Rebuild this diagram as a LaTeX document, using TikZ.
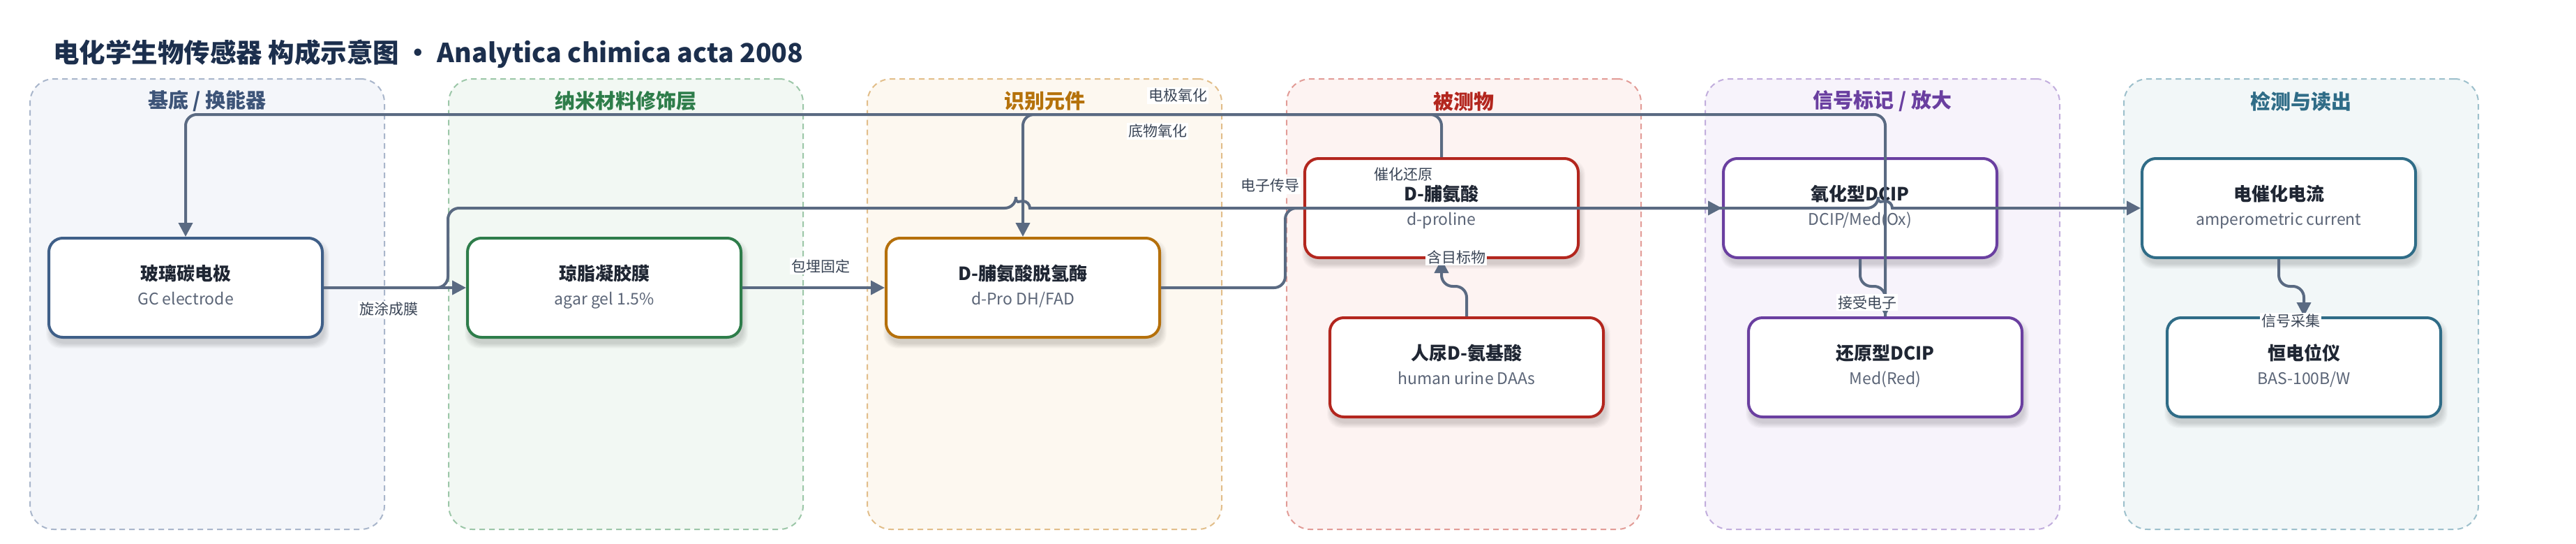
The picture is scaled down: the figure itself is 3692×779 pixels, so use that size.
\documentclass[tikz,border=0pt]{standalone}
\usepackage{fontspec}
\setmainfont{Noto Sans CJK SC}
\usetikzlibrary{arrows.meta,calc}

\definecolor{edgec}{HTML}{5A6A82}
\definecolor{lblc}{HTML}{3A4556}
\definecolor{titlec}{HTML}{1C2F4D}
\definecolor{ntitle}{HTML}{1F2633}
\definecolor{nsub}{HTML}{5B6577}
% cluster colours
\definecolor{fA}{HTML}{F4F6FA}\definecolor{bA}{HTML}{A9B6CB}\definecolor{tA}{HTML}{3D5478}
\definecolor{fB}{HTML}{F2F8F3}\definecolor{bB}{HTML}{9CC7A8}\definecolor{tB}{HTML}{2E7D4A}
\definecolor{fC}{HTML}{FDF8F0}\definecolor{bC}{HTML}{E2BE8A}\definecolor{tC}{HTML}{B5720B}
\definecolor{fD}{HTML}{FDF3F2}\definecolor{bD}{HTML}{E29C97}\definecolor{tD}{HTML}{B3261E}
\definecolor{fE}{HTML}{F7F3FB}\definecolor{bE}{HTML}{C2AEDD}\definecolor{tE}{HTML}{6A3FA0}
\definecolor{fF}{HTML}{F2F7F8}\definecolor{bF}{HTML}{9DC0CC}\definecolor{tF}{HTML}{2F6C87}
% node border colours
\definecolor{nA}{HTML}{3F5F88}
\definecolor{nB}{HTML}{2E7D4A}
\definecolor{nC}{HTML}{B5700B}
\definecolor{nD}{HTML}{B3261E}
\definecolor{nE}{HTML}{6A3FA0}
\definecolor{nF}{HTML}{2F6C87}

\tikzset{
  clusterbox/.style={dash pattern=on 8pt off 6pt, line width=2pt, rounded corners=34pt,
    minimum width=508pt, minimum height=645pt, anchor=north west, inner sep=0pt},
  clustertitle/.style={font=\bfseries\fontsize{29}{34}\selectfont, inner sep=0pt},
  nodebox/.style={fill=white, line width=4pt, rounded corners=20pt,
    minimum width=392pt, minimum height=142pt, inner sep=0pt},
  nodetitle/.style={font=\bfseries\fontsize{26}{30}\selectfont, text=ntitle, inner sep=0pt,
    text height=0.8em, text depth=0.2em},
  nodesub/.style={font=\fontsize{23}{27}\selectfont, text=nsub, inner sep=0pt,
    text height=0.8em, text depth=0.2em},
  conn/.style={draw=edgec, line width=4pt, rounded corners=16pt,
    -{Triangle[length=20pt,width=20pt]}},
  lbl/.style={fill=white, text=lblc, font=\fontsize{21}{25}\selectfont, inner sep=2pt}
}

\newcommand\mkcluster[6]{%
  \node[clusterbox, draw=#4, fill=#3] (#1) at (#2,112) {};
  \node[clustertitle, text=#5] (#1-t) at ($(#1.north)+(0,33)$) {#6};
}
\newcommand\mkbox[6]{%
  \foreach \k in {0,...,7}{%
    \fill[black, opacity=0.018, rounded corners=20pt]
      (#2-196-\k+3, #3-71-\k+9) rectangle (#2+196+\k+3, #3+71+\k+9);}
  \node[nodebox, draw=#4] (#1) at (#2,#3) {};
  \node[nodetitle] (#1-t) at (#2,#3-14) {#5};
  \node[nodesub] (#1-s) at (#2,#3+21) {#6};
}

\begin{document}
\begin{tikzpicture}[x=1pt,y=-1pt]
\useasboundingbox (0,0) rectangle (3692,779);
\fill[white] (0,0) rectangle (3692,779);

\node[anchor=west, inner sep=0pt, text=titlec, font=\bfseries\fontsize{37.5}{44}\selectfont]
  (title) at (76,77) {电化学生物传感器 构成示意图 · Analytica chimica acta 2008};

\mkcluster{cA}{42}{fA}{bA}{tA}{基底 / 换能器}
\mkcluster{cB}{642}{fB}{bB}{tB}{纳米材料修饰层}
\mkcluster{cC}{1242}{fC}{bC}{tC}{识别元件}
\mkcluster{cD}{1843}{fD}{bD}{tD}{被测物}
\mkcluster{cE}{2443}{fE}{bE}{tE}{信号标记 / 放大}
\mkcluster{cF}{3043}{fF}{bF}{tF}{检测与读出}

\mkbox{gc}{266}{412}{nA}{玻璃碳电极}{GC electrode}
\mkbox{agar}{866}{412}{nB}{琼脂凝胶膜}{agar gel 1.5\%}
\mkbox{enz}{1466}{412}{nC}{D-脯氨酸脱氢酶}{d-Pro DH/FAD}
\mkbox{dpro}{2066}{298}{nD}{D-脯氨酸}{d-proline}
\mkbox{urine}{2102}{526}{nD}{人尿D-氨基酸}{human urine DAAs}
\mkbox{dox}{2666}{298}{nE}{氧化型DCIP}{DCIP/Med(Ox)}
\mkbox{dred}{2702}{526}{nE}{还原型DCIP}{Med(Red)}
\mkbox{amp}{3266}{298}{nF}{电催化电流}{amperometric current}
\mkbox{pot}{3302}{526}{nF}{恒电位仪}{BAS-100B/W}

% connectors
\draw[conn] (gc.east) -- (agar.west);
\draw[conn] (agar.east) -- (enz.west);
\draw[conn] (dpro.north) -- (2066,164) -- (1466,164) -- (enz.north);
\draw[conn] (dred.north) -- (2702,164) -- (266,164) -- (gc.north);
\draw[conn] (enz.east) -- (1842,412) -- (1842,298) -- (dox.west);
\draw[conn] (gc.east) -- (642,412) -- (642,298) -- (1456,298)
  [sharp corners] arc[start angle=180, end angle=0, radius=10pt]
  [rounded corners=16pt] -- (2692,298)
  [sharp corners] arc[start angle=180, end angle=0, radius=10pt]
  -- (amp.west);
\draw[conn] (urine.north) -- (2102,410) -- (2066,410) -- (dpro.south);
\draw[conn] (dox.south) -- (2666,410) -- (2702,410) -- (dred.north);
\draw[conn] (amp.south) -- (3266,410) -- (3302,410) -- (pot.north);

% labels
\node[lbl] (l1) at (557,443) {旋涂成膜};
\node[lbl] (l2) at (1176,381) {包埋固定};
\node[lbl] (l3) at (1688,137) {电极氧化};
\node[lbl] (l4) at (1659,188) {底物氧化};
\node[lbl] (l5) at (1820,266) {电子传导};
\node[lbl] (l6) at (2011,250) {催化还原};
\node[lbl] (l7) at (2087,368) {含目标物};
\node[lbl] (l8) at (2676,433) {接受电子};
\node[lbl] (l9) at (3283,460) {信号采集};
\end{tikzpicture}
\end{document}
